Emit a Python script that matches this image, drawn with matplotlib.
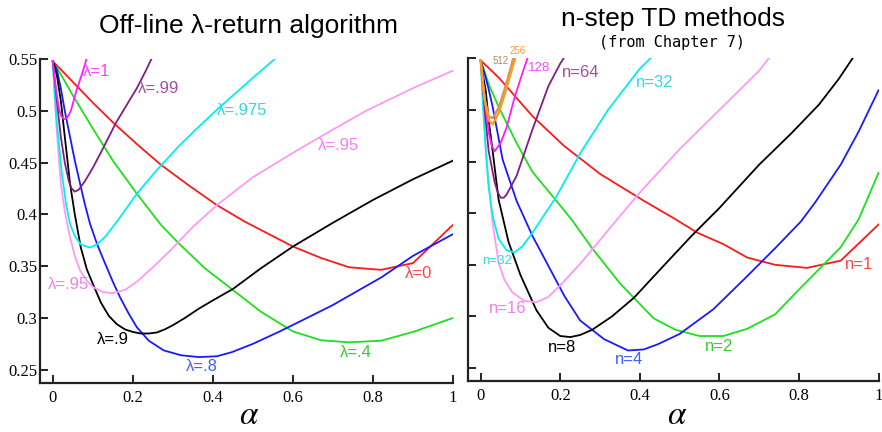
import matplotlib
matplotlib.use('Agg')
import matplotlib.pyplot as plt

plt.rcParams['mathtext.fontset'] = 'stix'

# ---- left panel: off-line lambda-return ----
lam1_a = [0, 0.005, 0.01, 0.015, 0.02, 0.025, 0.03, 0.037, 0.045, 0.06, 0.075, 0.09]
lam1_e = [0.548, 0.53, 0.515, 0.503, 0.496, 0.493, 0.492, 0.494, 0.5, 0.521, 0.538, 0.558]

lam99_a = [0, 0.005, 0.01, 0.02, 0.03, 0.04, 0.047, 0.055, 0.065, 0.08, 0.1, 0.127, 0.157, 0.185, 0.21, 0.23, 0.25]
lam99_e = [0.548, 0.53, 0.51, 0.475, 0.45, 0.432, 0.425, 0.422, 0.424, 0.432, 0.445, 0.465, 0.488, 0.506, 0.522, 0.537, 0.553]

lam975_a = [0, 0.005, 0.01, 0.0225, 0.033, 0.043, 0.055, 0.07, 0.093, 0.11, 0.13, 0.16, 0.21, 0.26, 0.315, 0.36, 0.415, 0.5, 0.557]
lam975_e = [0.548, 0.515, 0.49, 0.44, 0.41, 0.391, 0.379, 0.371, 0.368, 0.371, 0.378, 0.393, 0.42, 0.443, 0.466, 0.483, 0.503, 0.532, 0.551]

lam95_a = [0, 0.005, 0.01, 0.02, 0.03, 0.043, 0.055, 0.068, 0.085, 0.1, 0.125, 0.1475, 0.18, 0.21, 0.25, 0.293,
           0.35, 0.41, 0.5, 0.615, 0.7, 0.782, 0.9, 1.0]
lam95_e = [0.548, 0.51, 0.48, 0.43, 0.403, 0.378, 0.36, 0.346, 0.336, 0.33, 0.325, 0.324, 0.327, 0.335, 0.349, 0.365,
           0.388, 0.409, 0.436, 0.463, 0.482, 0.5, 0.522, 0.539]

lam9_a = [0, 0.01, 0.02, 0.03, 0.043, 0.055, 0.07, 0.085, 0.1, 0.12, 0.14, 0.16, 0.18, 0.2, 0.22, 0.24, 0.26, 0.28,
          0.3, 0.33, 0.365, 0.4, 0.45, 0.52, 0.6, 0.7, 0.8, 0.9, 1.0]
lam9_e = [0.548, 0.535, 0.51, 0.475, 0.43, 0.4, 0.368, 0.347, 0.333, 0.315, 0.302, 0.294, 0.289, 0.2865, 0.285, 0.285,
          0.286, 0.289, 0.293, 0.3, 0.309, 0.317, 0.328, 0.348, 0.369, 0.392, 0.414, 0.434, 0.452]

lam8_a = [0, 0.01, 0.02, 0.03, 0.043, 0.055, 0.068, 0.08, 0.093, 0.11, 0.127, 0.15, 0.168, 0.19, 0.21, 0.24, 0.277,
          0.32, 0.365, 0.41, 0.4475, 0.5, 0.5725, 0.6975, 0.8225, 0.9, 1.0]
lam8_e = [0.548, 0.54, 0.522, 0.5, 0.475, 0.452, 0.43, 0.41, 0.391, 0.372, 0.356, 0.335, 0.32, 0.304, 0.291, 0.278, 0.2687,
          0.264, 0.2622, 0.263, 0.267, 0.275, 0.288, 0.312, 0.3396, 0.36, 0.381]

lam4_a = [0, 0.025, 0.05, 0.1, 0.15, 0.21, 0.27, 0.315, 0.38, 0.45, 0.52, 0.6, 0.67, 0.74, 0.82, 0.9, 1.0]
lam4_e = [0.548, 0.532, 0.515, 0.483, 0.452, 0.42, 0.39, 0.372, 0.348, 0.327, 0.306, 0.287, 0.2785, 0.2765, 0.278, 0.2865, 0.30]

lam0_a = [0, 0.05, 0.1, 0.15, 0.21, 0.27, 0.34, 0.41, 0.48, 0.56, 0.6, 0.67, 0.74, 0.82, 0.9, 1.0]
lam0_e = [0.548, 0.528, 0.508, 0.489, 0.468, 0.448, 0.428, 0.409, 0.393, 0.377, 0.369, 0.358, 0.349, 0.3465, 0.353, 0.39]

# ---- right panel: n-step TD ----
n512_a = [0, 0.005, 0.01, 0.02, 0.03, 0.045, 0.06, 0.075, 0.085]
n512_e = [0.548, 0.528, 0.51, 0.494, 0.492, 0.502, 0.52, 0.54, 0.555]

n256_a = [0, 0.005, 0.01, 0.02, 0.03, 0.045, 0.06, 0.075, 0.09]
n256_e = [0.548, 0.527, 0.51, 0.49, 0.486, 0.497, 0.515, 0.535, 0.555]

n128_a = [0, 0.005, 0.01, 0.02, 0.028, 0.035, 0.05, 0.065, 0.085, 0.1, 0.12]
n128_e = [0.548, 0.528, 0.51, 0.478, 0.465, 0.46, 0.468, 0.483, 0.512, 0.53, 0.553]

n64_a = [0, 0.005, 0.01, 0.02, 0.035, 0.043, 0.05, 0.058, 0.065, 0.09, 0.13, 0.17, 0.2, 0.225]
n64_e = [0.548, 0.525, 0.5, 0.46, 0.43, 0.42, 0.415, 0.415, 0.418, 0.436, 0.481, 0.523, 0.545, 0.56]

n32_a = [0, 0.005, 0.0125, 0.02, 0.03, 0.045, 0.065, 0.085, 0.105, 0.13, 0.19, 0.25, 0.32, 0.4, 0.44]
n32_e = [0.548, 0.51, 0.46, 0.425, 0.397, 0.375, 0.364, 0.362, 0.368, 0.381, 0.416, 0.458, 0.5, 0.54, 0.555]

n16_a = [0, 0.005, 0.01, 0.02, 0.03, 0.045, 0.06, 0.08, 0.11, 0.14, 0.17, 0.2, 0.25, 0.3, 0.343, 0.4, 0.5, 0.6, 0.7, 0.73]
n16_e = [0.548, 0.51, 0.48, 0.43, 0.39, 0.352, 0.335, 0.323, 0.315, 0.3137, 0.319, 0.33, 0.351, 0.374, 0.394, 0.42,
         0.462, 0.5, 0.538, 0.553]

n8_a = [0, 0.005, 0.0125, 0.02, 0.03, 0.045, 0.07, 0.1, 0.14, 0.17, 0.2, 0.225, 0.25, 0.28, 0.33, 0.385, 0.45, 0.53,
        0.6, 0.7, 0.78, 0.85, 0.9, 0.94]
n8_e = [0.548, 0.535, 0.519, 0.49, 0.46, 0.413, 0.372, 0.34, 0.306, 0.289, 0.281, 0.28, 0.282, 0.287, 0.3, 0.318, 0.345,
        0.378, 0.405, 0.447, 0.477, 0.505, 0.53, 0.553]

n4_a = [0, 0.01, 0.02, 0.03, 0.055, 0.09, 0.13, 0.17, 0.21, 0.25, 0.31, 0.37, 0.41, 0.445, 0.5, 0.585, 0.67, 0.74,
        0.805, 0.84, 0.905, 0.95, 1.0]
n4_e = [0.548, 0.535, 0.52, 0.503, 0.452, 0.412, 0.378, 0.349, 0.32, 0.296, 0.278, 0.267, 0.268, 0.273, 0.283, 0.307,
        0.339, 0.366, 0.392, 0.41, 0.447, 0.479, 0.519]

n2_a = [0, 0.02, 0.045, 0.09, 0.13, 0.19, 0.23, 0.28, 0.35, 0.435, 0.49, 0.55, 0.61, 0.67, 0.74, 0.805, 0.905, 0.95, 1.0]
n2_e = [0.548, 0.525, 0.503, 0.468, 0.44, 0.412, 0.393, 0.366, 0.332, 0.298, 0.287, 0.281, 0.281, 0.288, 0.302, 0.328,
        0.367, 0.394, 0.439]

n1_a = [0, 0.046, 0.13, 0.21, 0.3, 0.41, 0.49, 0.545, 0.61, 0.67, 0.74, 0.82, 0.905, 1.0]
n1_e = [0.548, 0.531, 0.494, 0.465, 0.438, 0.412, 0.394, 0.381, 0.37, 0.357, 0.35, 0.347, 0.354, 0.389]

yticks = [0.25, 0.3, 0.35, 0.4, 0.45, 0.5, 0.55]
ytick_labels = ['0.25', '0.3', '0.35', '0.4', '0.45', '0.5', '0.55']
xticks = [0, 0.2, 0.4, 0.6, 0.8, 1.0]
xtick_labels = ['0', '0.2', '0.4', '0.6', '0.8', '1']

RED = '#ff1a1a'
GREEN = '#1ee01e'
BLUE = '#1a1aff'
BLACK = '#000000'
PINK = '#ff99f5'
CYAN = '#00f0f0'
PURPLE = '#7f1f7f'
MAGENTA = '#ff1aff'
ORANGE = '#ff9a1a'
TAN = '#c49a6c'

LBL = 'Liberation Sans'
FS = 12

fig = plt.figure(figsize=(8.82, 4.32), dpi=100)
ax1 = fig.add_axes([40 / 882, 0.113, 413 / 882, 0.750])
ax2 = fig.add_axes([468 / 882, 0.117, 410.5 / 882, 0.748])


def style(ax, show_ylabels):
    ax.set_xlim(-0.032, 1.0)
    ax.set_ylim(0.237, 0.55)
    for s in ['top', 'right']:
        ax.spines[s].set_visible(False)
    for s in ['left', 'bottom']:
        ax.spines[s].set_linewidth(1.6)
        ax.spines[s].set_color('#222222')
    ax.set_xticks(xticks)
    ax.set_xticklabels(xtick_labels, family='Liberation Serif', fontsize=12)
    ax.set_yticks(yticks)
    if show_ylabels:
        ax.set_yticklabels(ytick_labels, family='Liberation Serif', fontsize=12)
    else:
        ax.set_yticklabels([])
    ax.tick_params(direction='in', length=6, width=1.4, color='#222222')
    ax.tick_params(axis='y', pad=2)
    ax.tick_params(axis='x', pad=5)


lw = 1.3
ax1.plot(lam0_a, lam0_e, color=RED, lw=lw)
ax1.plot(lam4_a, lam4_e, color=GREEN, lw=lw)
ax1.plot(lam8_a, lam8_e, color=BLUE, lw=lw)
ax1.plot(lam9_a, lam9_e, color=BLACK, lw=lw)
ax1.plot(lam95_a, lam95_e, color=PINK, lw=lw)
ax1.plot(lam975_a, lam975_e, color=CYAN, lw=lw)
ax1.plot(lam99_a, lam99_e, color=PURPLE, lw=lw)
ax1.plot(lam1_a, lam1_e, color=MAGENTA, lw=lw)
style(ax1, True)

ax1.text(0.11, 0.538, 'λ=1', color='#ff44ff', fontsize=FS, family=LBL, ha='center', va='center')
ax1.text(0.265, 0.522, 'λ=.99', color='#a050a0', fontsize=FS, family=LBL, ha='center', va='center')
ax1.text(0.4725, 0.500, 'λ=.975', color='#33d8e0', fontsize=FS, family=LBL, ha='center', va='center')
ax1.text(0.715, 0.467, 'λ=.95', color='#f080ee', fontsize=FS, family=LBL, ha='center', va='center')
ax1.text(0.04, 0.332, 'λ=.95', color='#f080ee', fontsize=FS, family=LBL, ha='center', va='center')
ax1.text(0.15, 0.279, 'λ=.9', color='black', fontsize=FS, family=LBL, ha='center', va='center')
ax1.text(0.3725, 0.253, 'λ=.8', color='#4060ff', fontsize=FS, family=LBL, ha='center', va='center')
ax1.text(0.757, 0.2665, 'λ=.4', color='#33cc33', fontsize=FS, family=LBL, ha='center', va='center')
ax1.text(0.915, 0.343, 'λ=0', color='#ff4444', fontsize=FS, family=LBL, ha='center', va='center')

ax2.plot(n1_a, n1_e, color=RED, lw=lw)
ax2.plot(n2_a, n2_e, color=GREEN, lw=lw)
ax2.plot(n4_a, n4_e, color=BLUE, lw=lw)
ax2.plot(n8_a, n8_e, color=BLACK, lw=lw)
ax2.plot(n16_a, n16_e, color=PINK, lw=lw)
ax2.plot(n32_a, n32_e, color=CYAN, lw=lw)
ax2.plot(n64_a, n64_e, color=PURPLE, lw=lw)
ax2.plot(n128_a, n128_e, color=MAGENTA, lw=lw)
ax2.plot(n512_a, n512_e, color=TAN, lw=lw + 0.4)
ax2.plot(n256_a, n256_e, color=ORANGE, lw=lw + 0.4)
style(ax2, False)

ax2.text(0.049, 0.547, '512', color='#b08a60', fontsize=7, family=LBL, ha='center', va='center', clip_on=False)
ax2.text(0.092, 0.557, '256', color='#ff9a33', fontsize=7, family=LBL, ha='center', va='center', clip_on=False)
ax2.text(0.147, 0.5405, '128', color='#ff44ff', fontsize=9.5, family=LBL, ha='center', va='center')
ax2.text(0.251, 0.536, 'n=64', color='#a050a0', fontsize=FS, family=LBL, ha='center', va='center')
ax2.text(0.437, 0.527, 'n=32', color='#33d8e0', fontsize=FS, family=LBL, ha='center', va='center')
ax2.text(0.042, 0.3535, 'n=32', color='#33d8e0', fontsize=9.5, family=LBL, ha='center', va='center')
ax2.text(0.068, 0.308, 'n=16', color='#f080ee', fontsize=FS, family=LBL, ha='center', va='center')
ax2.text(0.204, 0.2695, 'n=8', color='black', fontsize=FS, family=LBL, ha='center', va='center')
ax2.text(0.374, 0.2578, 'n=4', color='#4060ff', fontsize=FS, family=LBL, ha='center', va='center')
ax2.text(0.60, 0.271, 'n=2', color='#33cc33', fontsize=FS, family=LBL, ha='center', va='center')
ax2.text(0.95, 0.350, 'n=1', color='#ff4444', fontsize=FS, family=LBL, ha='center', va='center')

# alpha axis labels
fig.text(249 / 882, 1 - 414 / 432, r'$\alpha$', fontsize=24, ha='center', va='center')
fig.text(677 / 882, 1 - 414 / 432, r'$\alpha$', fontsize=24, ha='center', va='center')

# titles
fig.text(249 / 882, 1 - 26 / 432, 'Off-line λ-return algorithm', fontsize=19, family=LBL, ha='center', va='center')
fig.text(673 / 882, 1 - 19 / 432, 'n-step TD methods', fontsize=19, family=LBL, ha='center', va='center')
fig.text(672 / 882, 1 - 42 / 432, '(from Chapter 7)', fontsize=11, family='DejaVu Sans Mono', ha='center', va='center')

fig.savefig('out.png', dpi=100)
